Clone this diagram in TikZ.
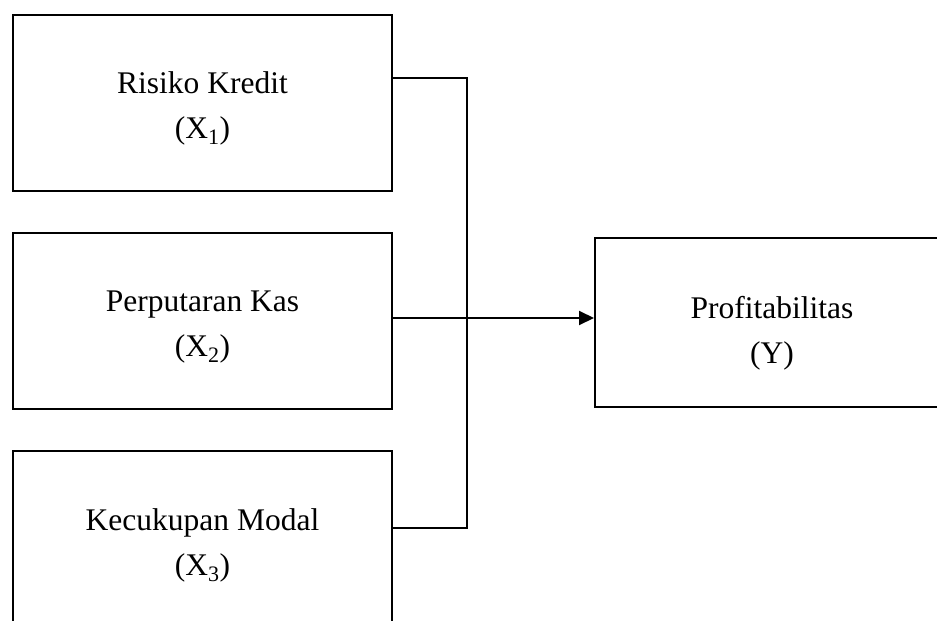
\documentclass[tikz,border=0pt]{standalone}
\usepackage{fontspec}
\setmainfont{Liberation Serif}
\usetikzlibrary{arrows.meta,calc}
\begin{document}
\begin{tikzpicture}[x=1pt,y=-1pt,
  varbox/.style={draw, line width=2pt, anchor=north west, minimum width=379pt, minimum height=176pt, inner sep=0pt},
  vartext/.style={align=center, inner sep=0pt, font=\fontsize{31.5}{45}\selectfont},
  link/.style={line width=2pt}]
\useasboundingbox (0,0) rectangle (937,621);
\clip (0,0) rectangle (937,621);
\node[varbox] (b1) at (12,13.5) {};
\node[varbox] (b2) at (12,232) {};
\node[varbox] (b3) at (12,450) {};
\node[varbox, minimum width=354pt, minimum height=169pt] (y) at (594,237) {};
\node[vartext] (t1) at ($(b1.center)+(0,6)$) {Risiko Kredit\\(X\textsubscript{1})};
\node[vartext] (t2) at ($(b2.center)+(0,6)$) {Perputaran Kas\\(X\textsubscript{2})};
\node[vartext] (t3) at ($(b3.center)+(0,6)$) {Kecukupan Modal\\(X\textsubscript{3})};
\node[vartext] (ty) at ($(y.center)+(0,11)$) {Profitabilitas\\(Y)};
\coordinate (j) at (467,318);
\coordinate (p1) at ($(b1.north east)!0.36!(b1.south east)$);
\coordinate (p3) at ($(b3.north east)!0.4375!(b3.south east)$);
\coordinate (p2) at (b2.east |- j);
\draw[link] (p1) -| (j);
\draw[link] (p3) -| (j);
\draw[link, -{Triangle[length=15pt,width=14pt]}] (p2) -- (p2 -| y.west);
\end{tikzpicture}
\end{document}
